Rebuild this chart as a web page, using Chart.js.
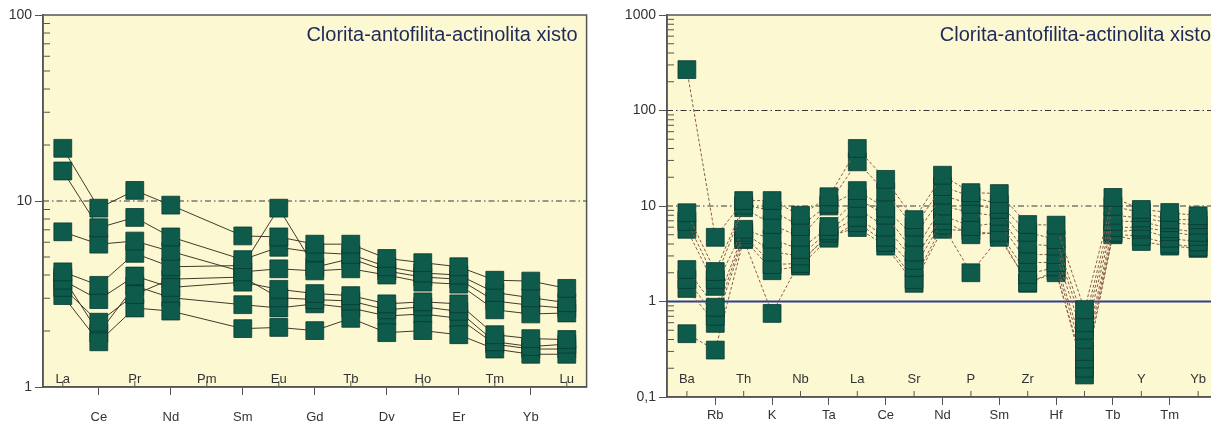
<!DOCTYPE html>
<html>
<head>
<meta charset="utf-8">
<script src="https://cdn.jsdelivr.net/npm/chart.js@4.4.1/dist/chart.umd.min.js"></script>
<style>
  html, body { margin: 0; padding: 0; background: #fff; overflow: hidden; }
  #left { position: absolute; left: 0; top: 0; width: 600px; height: 421px; }
  #right { position: absolute; left: 600px; top: 0; width: 660px; height: 421px; }
</style>
</head>
<body>
<div id="left"><canvas id="reeChart"></canvas></div>
<div id="right"><canvas id="spiderChart"></canvas></div>
<script>
const title = "Clorita-antofilita-actinolita xisto";

// REE, chondrite normalised (Pm not analysed)
const reeLabels = ["La", "Ce", "Pr", "Nd", "Pm", "Sm", "Eu", "Gd", "Tb", "Dy", "Ho", "Er", "Tm", "Yb", "Lu"];
const reeA = [19.2, 9.15, 11.4, 9.5, null, 6.49, 6.41, 5.86, 5.86, 4.91, 4.66, 4.43, 3.75, 3.71, 3.39];
const reeB = [14.5, 7.18, 8.16, 6.41, null, 4.84, 5.64, 5.29, 5.16, 4.43, 4.10, 4.0, 3.22, 3.02, 2.84];
const reeC = [6.83, 5.86, 6.09, 5.36, null, 4.16, 4.32, 4.21, 4.32, 4.0, 3.66, 3.57, 2.60, 2.47, 2.50];
const reeD = [4.16, 3.52, 5.23, 4.43, null, 4.5, 9.15, 4.4, 4.9, 4.2, 3.9, 3.8, 2.9, 2.75, 2.65];
const reeE = [3.75, 2.95, 3.95, 3.43, null, 3.66, 3.35, 3.18, 3.10, 2.80, 2.87, 2.80, 1.91, 1.82, 1.80];
const reeF = [3.43, 2.23, 3.14, 3.8, null, 3.9, 3.02, 2.95, 2.9, 2.6, 2.7, 2.55, 1.75, 1.65, 1.70];
const reeG = [3.10, 1.75, 2.66, 2.56, null, 2.06, 2.09, 2.01, 2.34, 1.96, 2.01, 1.91, 1.60, 1.50, 1.50];
const reeH = [3.9, 1.95, 3.5, 3.02, null, 2.77, 2.66, 2.80, 2.66, 2.41, 2.47, 2.34, 1.70, 1.60, 1.60];
const reeYTicks = [1, 10, 100];
const reeYLabels = ["1", "10", "100"];

// multi-element spider diagram
const spiderLabels = ["Ba", "Rb", "Th", "K", "Nb", "Ta", "La", "Ce", "Sr", "Nd", "P", "Sm", "Zr", "Hf", "Ti", "Tb", "Y", "Tm", "Yb"];
const spider1 = [268, 4.7, 11.4, 11.4, 8.0, 12.5, 40, 19, 7.2, 21, 13.8, 13.5, 6.4, 6.3, 0.82, 12.3, 9.2, 8.55, 7.9];
const spider2 = [8.5, 2.06, 10.2, 9.0, 6.1, 10.5, 29, 14, 6.0, 16, 12.6, 10.4, 5.3, 4.45, 0.6, 9.9, 8.55, 7.2, 7.2];
const spider3 = [6.9, 1.7, 9.6, 6.4, 4.7, 10, 14.5, 9.5, 4.7, 13, 10.4, 9.2, 4.0, 3.8, 0.5, 8.0, 7.5, 6.7, 6.3];
const spider4 = [5.7, 1.44, 5.7, 4.5, 3.5, 6.1, 12, 8.0, 3.3, 10, 8.55, 7.8, 3.1, 3.1, 0.4, 6.9, 6.9, 5.8, 5.3];
const spider5 = [2.16, 0.87, 5.3, 3.3, 3.0, 5.5, 9.5, 6.0, 2.7, 8.0, 6.1, 6.7, 2.56, 2.56, 0.3, 5.95, 6.0, 5.4, 4.8];
const spider6 = [1.7, 0.7, 5.0, 2.44, 2.5, 5.2, 7.6, 4.7, 2.27, 7.0, 5.0, 5.3, 1.92, 2.3, 0.25, 5.3, 5.7, 4.6, 4.2];
const spider7 = [1.37, 0.59, 4.6, 2.1, 2.35, 4.6, 6.7, 4.15, 1.7, 6.3, 2.0, 4.7, 1.58, 2.0, 0.2, 5.1, 4.8, 4.0, 3.7];
const spider8 = [0.46, 0.31, 4.45, 0.75, 2.7, 4.8, 5.95, 3.8, 1.55, 5.7, 5.5, 5.0, 1.55, 2.1, 0.17, 5.0, 4.25, 3.8, 3.6];
const spiderYTicks = [0.1, 1, 10, 100, 1000];
const spiderYLabels = ["0,1", "1", "10", "100", "1000"];

Chart.defaults.font.family = '"Liberation Sans", Arial, sans-serif';

const markerColor = "#0e5a4b";
const markerEdge = "#083a31";
const axisColor = "#555";

// pale panel, frame, inner minor ticks, inner labels and the title
const panel = {
  id: "panel",
  beforeDraw(chart, args, opts) {
    const { ctx, chartArea: a } = chart;
    ctx.save();
    ctx.fillStyle = "#fcf8d1";
    ctx.fillRect(a.left, a.top, a.right - a.left, a.bottom - a.top);
    ctx.restore();
  },
  beforeDatasetsDraw(chart, args, opts) {
    const { ctx, chartArea: a, scales } = chart;
    ctx.save();
    ctx.strokeStyle = axisColor;
    ctx.lineWidth = 1.5;
    ctx.strokeRect(a.left, a.top, a.right - a.left, a.bottom - a.top);

    const y = scales.y;
    ctx.lineWidth = 1;
    const lo = Math.round(Math.log10(y.min));
    const hi = Math.round(Math.log10(y.max));
    for (let e = lo; e < hi; e++) {
      for (let m = 2; m <= 9; m++) {
        const py = y.getPixelForValue(m * Math.pow(10, e));
        ctx.beginPath();
        ctx.moveTo(a.left, py);
        ctx.lineTo(a.left + 7, py);
        ctx.stroke();
      }
    }

    const x = scales.x;
    ctx.font = '13px "Liberation Sans", Arial, sans-serif';
    ctx.fillStyle = "#333";
    ctx.textAlign = "center";
    ctx.textBaseline = "alphabetic";
    opts.labels.forEach((name, i) => {
      if (i % 2) return;
      const px = x.getPixelForValue(i);
      ctx.beginPath();
      ctx.moveTo(px, a.bottom);
      ctx.lineTo(px, a.bottom - 6);
      ctx.stroke();
      ctx.fillText(name, px, a.bottom - opts.labelLift);
    });

    ctx.font = '20px "Liberation Sans", Arial, sans-serif';
    ctx.fillStyle = "#1f2a5a";
    ctx.textAlign = "right";
    ctx.fillText(title, a.right - 9, a.top + 26);
    ctx.restore();
  }
};

function sampleSet(values, lineColor, dash) {
  return {
    data: values.map((v, i) => ({ x: i, y: v })),
    borderColor: lineColor,
    borderWidth: 1,
    borderDash: dash,
    backgroundColor: markerColor,
    pointStyle: "rect",
    pointRadius: 12.6,
    pointBorderWidth: 0.8,
    pointBorderColor: markerEdge,
    pointBackgroundColor: markerColor,
    spanGaps: true,
    order: 0
  };
}

function refLine(value, xMin, xMax, color, width, dash) {
  return {
    data: [{ x: xMin, y: value }, { x: xMax, y: value }],
    borderColor: color,
    borderWidth: width,
    borderDash: dash,
    pointRadius: 0,
    order: 10
  };
}

function spiderOptions(cfg) {
  return {
    responsive: true,
    maintainAspectRatio: false,
    animation: false,
    layout: { padding: { top: 15, right: cfg.padRight, left: 0, bottom: 0 } },
    plugins: {
      legend: { display: false },
      tooltip: { enabled: false },
      panel: { labels: cfg.labels, labelLift: cfg.labelLift }
    },
    scales: {
      x: {
        type: "linear",
        min: cfg.xMin,
        max: cfg.xMax,
        afterBuildTicks: s => { s.ticks = cfg.labels.map((_, i) => ({ value: i })); },
        afterFit: s => { s.height = cfg.xHeight; },
        ticks: {
          autoSkip: false,
          maxRotation: 0,
          padding: cfg.xPad,
          color: "#333",
          font: { size: 13 },
          callback: v => (v % 2 ? cfg.labels[v] : "")
        },
        grid: {
          drawOnChartArea: false,
          tickLength: 8,
          lineWidth: 1,
          color: c => (c.index % 2 ? axisColor : "rgba(0,0,0,0)")
        },
        border: { color: axisColor, width: 1.5 }
      },
      y: {
        type: "logarithmic",
        min: cfg.yTicks[0],
        max: cfg.yTicks[cfg.yTicks.length - 1],
        afterBuildTicks: s => { s.ticks = cfg.yTicks.map(v => ({ value: v })); },
        afterFit: s => { s.width = cfg.yWidth; },
        ticks: {
          padding: 3,
          color: "#333",
          font: { size: 14 },
          callback: (v, i) => cfg.yLabels[i]
        },
        grid: { drawOnChartArea: false, tickLength: 8, color: axisColor },
        border: { color: axisColor, width: 1.5 }
      }
    }
  };
}

const reeMin = -0.55, reeMax = 14.55;
new Chart(document.getElementById("reeChart"), {
  type: "line",
  data: {
    datasets: [
      ...[reeA, reeB, reeC, reeD, reeE, reeF, reeG, reeH].map(s => sampleSet(s, "#45392c", [])),
      refLine(10, reeMin, reeMax, "#3a3a3a", 1.2, [6, 3, 1.5, 3])
    ]
  },
  options: spiderOptions({
    labels: reeLabels, xMin: reeMin, xMax: reeMax,
    yTicks: reeYTicks, yLabels: reeYLabels,
    yWidth: 43, xHeight: 34, xPad: 15, padRight: 5, labelLift: 4
  }),
  plugins: [panel]
});

const spMin = -0.7, spMax = 18.77;
new Chart(document.getElementById("spiderChart"), {
  type: "line",
  data: {
    datasets: [
      ...[spider1, spider2, spider3, spider4, spider5, spider6, spider7, spider8].map(s => sampleSet(s, "#8c5d4c", [3, 2])),
      refLine(100, spMin, spMax, "#3a3a3a", 1.2, [6, 3, 1.5, 3]),
      refLine(10, spMin, spMax, "#3a3a3a", 1.2, [6, 3, 1.5, 3]),
      refLine(1, spMin, spMax, "#2e3f8f", 2, [])
    ]
  },
  options: spiderOptions({
    labels: spiderLabels, xMin: spMin, xMax: spMax,
    yTicks: spiderYTicks, yLabels: spiderYLabels,
    yWidth: 67, xHeight: 24, xPad: 3, padRight: 40, labelLift: 14
  }),
  plugins: [panel]
});
</script>
</body>
</html>
